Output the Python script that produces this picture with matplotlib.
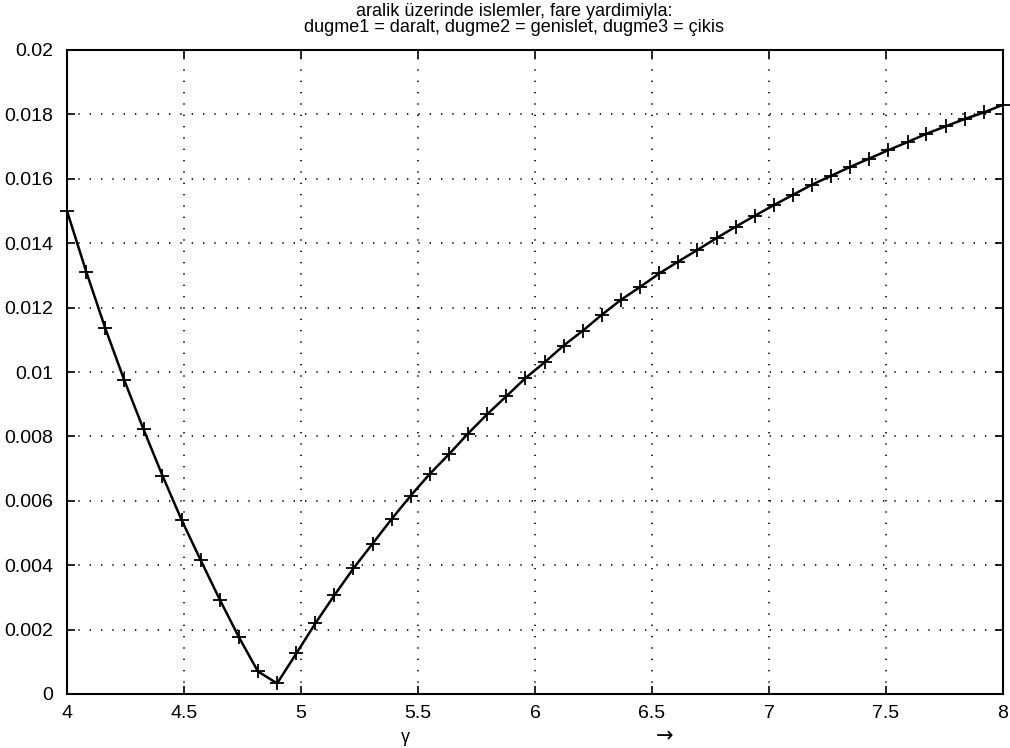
import matplotlib
matplotlib.use("Agg")
import matplotlib.pyplot as plt

plt.rcParams['font.family'] = ['Liberation Sans', 'DejaVu Sans']

gamma = [4.000, 4.082, 4.163, 4.245, 4.327, 4.408, 4.490, 4.571, 4.653, 4.735,
         4.816, 4.898, 4.980, 5.061, 5.143, 5.224, 5.306, 5.388, 5.469, 5.551,
         5.633, 5.714, 5.796, 5.878, 5.959, 6.041, 6.122, 6.204, 6.286, 6.367,
         6.449, 6.531, 6.612, 6.694, 6.776, 6.857, 6.939, 7.020, 7.102, 7.184,
         7.265, 7.347, 7.429, 7.510, 7.592, 7.673, 7.755, 7.837, 7.918, 8.000]
values = [0.01500, 0.01312, 0.01137, 0.00974, 0.00822, 0.00678, 0.00540, 0.00416, 0.00293, 0.00176,
          0.00070, 0.00033, 0.00126, 0.00219, 0.00307, 0.00390, 0.00467, 0.00544, 0.00616, 0.00684,
          0.00745, 0.00809, 0.00869, 0.00925, 0.00981, 0.01030, 0.01082, 0.01128, 0.01178, 0.01224,
          0.01264, 0.01306, 0.01343, 0.01379, 0.01416, 0.01451, 0.01485, 0.01518, 0.01550, 0.01582,
          0.01609, 0.01637, 0.01663, 0.01689, 0.01714, 0.01740, 0.01763, 0.01786, 0.01806, 0.01830]

xticks = [4, 4.5, 5, 5.5, 6, 6.5, 7, 7.5, 8]
xticklabels = ['4', '4.5', '5', '5.5', '6', '6.5', '7', '7.5', '8']
yticks = [0, 0.002, 0.004, 0.006, 0.008, 0.01, 0.012, 0.014, 0.016, 0.018, 0.02]
yticklabels = ['0', '0.002', '0.004', '0.006', '0.008', '0.01', '0.012', '0.014', '0.016', '0.018', '0.02']

title_line1 = "aralik üzerinde islemler, fare yardimiyla:"
title_line2 = "dugme1 = daralt, dugme2 = genislet, dugme3 = çikis"

W, H = 1010, 748
fig = plt.figure(figsize=(W / 100, H / 100), dpi=100)
L, R, T, B = 67, 1003, 50, 694
ax = fig.add_axes([L / W, 1 - B / H, (R - L) / W, (B - T) / H])

ax.plot(gamma, values, color='black', lw=1.8, marker='+', ms=10, mew=1.3, clip_on=False, zorder=3)

ax.set_xlim(4, 8)
ax.set_ylim(0, 0.02)
ax.set_xticks(xticks)
ax.set_xticklabels(xticklabels)
ax.set_yticks(yticks)
ax.set_yticklabels(yticklabels)
ax.tick_params(direction='in', length=6, width=1.2, top=True, right=True,
               labelsize=14, colors='black')
ax.tick_params(axis='y', pad=10)
ax.tick_params(axis='x', pad=8)
ax.grid(True, color='black', linestyle=(0, (0.8, 6)), linewidth=1.2)
for s in ax.spines.values():
    s.set_linewidth(1.5)
    s.set_color('black')

tx = 514 / W
fig.text(tx, 1 - 11 / H, title_line1, ha='center', va='center', fontsize=13)
fig.text(tx, 1 - 28 / H, title_line2, ha='center', va='center', fontsize=13)
fig.text(405 / W, 1 - 737 / H, "γ", ha='center', va='center', fontsize=13)
fig.text(665 / W, 1 - 736 / H, "→", ha='center', va='center', fontsize=15, family=['DejaVu Sans'])

fig.savefig("out.png", dpi=100)
